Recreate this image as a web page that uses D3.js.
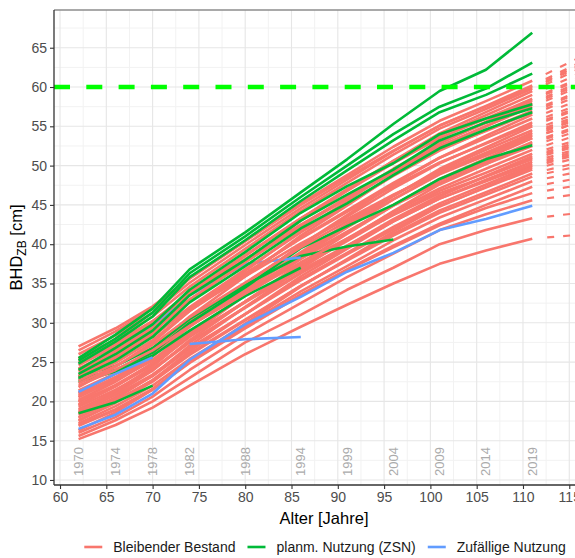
<!DOCTYPE html>
<html><head><meta charset="utf-8">
<script src="https://cdn.jsdelivr.net/npm/d3@7"></script>
<style>body{margin:0;background:#fff}svg{display:block;font-family:"Liberation Sans",Arial,sans-serif}</style>
</head><body><svg id="c" width="575" height="558"></svg>
<script>
// Measurement ages (Alter) and the corresponding survey years
const ages = [62,66,70,74,80,86,91,96,101,106,111];
const yearLabels = ["1970","1974","1978","1982","1988","1994","1999","2004","2009","2014","2019"];
const xTicks = [60,65,70,75,80,85,90,95,100,105,110,115];
const xMinor = [62.5,67.5,72.5,77.5,82.5,87.5,92.5,97.5,102.5,107.5,112.5,117.5];
const yTicks = [10,15,20,25,30,35,40,45,50,55,60,65];
const yMinor = [12.5,17.5,22.5,27.5,32.5,37.5,42.5,47.5,52.5,57.5,62.5,67.5];
const targetDiameter = 60;
const projAge = 120;

// Bleibender Bestand (remaining stand) - lower group
const redLower = [
 [15.2,17.0,19.2,22.0,26.0,29.5,32.3,35.0,37.5,39.2,40.7],
 [15.6,17.6,20.0,23.0,27.5,31.0,34.2,37.0,40.0,41.8,43.3],
 [16.0,18.0,20.6,24.0,28.5,32.5,35.8,38.8,41.8,43.8,45.6],
 [16.9,18.9,21.5,24.9,29.3,33.5,36.7,39.6,42.4,44.6,46.5],
 [17.2,19.4,22.0,25.4,29.7,34.0,37.2,40.5,43.4,45.7,48.0],
 [17.6,19.8,22.5,25.9,30.3,34.7,38.0,41.3,44.3,46.6,49.0],
 [18.0,20.1,22.7,26.1,30.4,34.7,37.9,41.1,44.0,46.3,48.6],
 [18.3,20.5,23.2,26.7,31.1,35.6,38.9,42.2,45.2,47.6,50.0],
 [18.6,20.8,23.4,26.8,31.1,35.4,38.7,41.9,44.9,47.2,49.5],
 [19.0,21.2,24.0,27.5,32.0,36.4,39.8,43.2,46.2,48.6,51.0],
 [19.3,21.5,24.1,27.6,31.9,36.3,39.6,42.9,45.8,48.2,50.5],
 [19.6,21.9,24.6,28.2,32.7,37.3,40.7,44.1,47.1,49.6,52.0],
 [19.9,22.1,24.8,28.3,32.7,37.1,40.4,43.8,46.8,49.1,51.5],
 [20.2,22.5,25.3,28.9,33.5,38.1,41.5,45.0,48.1,50.5,53.0],
 [20.5,22.9,25.8,29.5,34.3,39.0,42.6,46.2,49.4,52.0,54.5],
 [20.8,23.1,25.9,29.5,34.2,38.8,42.3,45.7,48.9,51.3,53.8],
 [21.1,23.5,26.4,30.2,35.0,39.8,43.5,47.1,50.3,52.9,55.5],
 [21.4,23.6,26.2,29.6,34.0,38.3,41.6,44.9,47.8,50.2,52.5],
 [17.0,19.0,21.6,25.0,29.5,33.6,36.8,39.8,42.6,45.0,47.3],
 [18.8,21.3,24.4,28.4,33.5,38.5,42.3,46.1,49.6,52.3,55.0],
 [20.0,22.6,25.7,29.7,34.8,39.9,43.7,47.6,51.0,53.8,56.5],
 [17.9,20.3,23.3,27.1,32.0,36.9,40.6,44.2,47.6,50.2,52.8],
 [16.3,18.6,21.5,25.2,29.9,34.6,38.1,41.6,44.8,47.3,49.8],
 [18.5,21.0,23.9,27.8,32.7,37.6,41.3,44.9,48.3,50.9,53.5],
 [19.5,21.9,24.9,28.7,33.6,38.4,42.1,45.7,49.0,51.6,54.2],
 [21.0,23.6,26.7,30.8,35.9,41.1,44.9,48.8,52.3,55.0,57.8],
 [17.5,19.9,22.7,26.4,31.1,35.9,39.4,42.9,46.1,48.7,51.2],
 [20.6,22.7,25.2,28.4,32.6,36.7,39.8,42.9,45.8,48.0,50.2]
];
const redLowerProj = [41.6,44.5,47.0,48.3,50.2,51.5,51.0,53.0,52.3,54.2,53.5,55.5,54.8,56.7,58.5,57.6,59.6,56.0,49.3,59.0,60.8,56.5,52.8,57.2,58.1,62.3,54.5,53.3];

// Bleibender Bestand - upper group
const redUpper = [
 [22.3,24.5,27.2,30.7,35.1,39.6,42.9,46.2,49.2,51.6,54.0],
 [22.6,24.9,27.8,31.5,36.1,40.8,44.3,47.8,51.0,53.5,56.0],
 [23.0,25.4,28.3,32.0,36.8,41.5,45.1,48.7,51.9,54.5,57.0],
 [23.4,25.6,28.3,31.8,36.3,40.7,44.1,47.4,50.4,52.8,55.2],
 [23.8,26.2,29.1,32.9,37.7,42.4,46.0,49.6,52.9,55.4,58.0],
 [24.2,26.5,29.4,33.0,37.7,42.3,45.8,49.3,52.5,55.0,57.5],
 [24.6,27.0,29.9,33.7,38.5,43.3,47.0,50.6,53.8,56.4,59.0],
 [25.0,27.3,30.2,33.9,38.6,43.3,46.8,50.3,53.5,56.0,58.5],
 [25.5,27.9,30.8,34.6,39.4,44.2,47.8,51.4,54.7,57.2,59.8],
 [26.0,28.4,31.3,35.1,39.9,44.6,48.2,51.8,55.1,57.6,60.2],
 [26.5,28.9,31.8,35.6,40.4,45.2,48.8,52.4,55.7,58.2,60.8],
 [27.0,29.3,32.1,35.7,40.4,45.0,48.5,51.9,55.1,57.5,60.0],
 [22.0,24.0,26.5,29.6,33.7,37.7,40.7,43.7,46.5,48.6,50.8],
 [24.0,26.1,28.6,31.8,35.9,40.1,43.2,46.3,49.1,51.3,53.5],
 [25.3,27.5,30.2,33.6,38.1,42.5,45.8,49.1,52.1,54.4,56.8],
 [21.8,24.4,27.5,31.5,36.6,41.7,45.5,49.4,52.8,55.6,58.3],
 [23.2,25.7,28.8,32.8,37.9,43.0,46.8,50.6,54.1,56.8,59.5]
];
const redUpperProj = [57.8,60.2,61.4,59.2,62.6,62.0,63.8,63.2,64.8,65.3,66.0,65.0,54.0,57.2,61.2,63.0,64.5];

// planm. Nutzung (ZSN) - trees removed at different ages (values from age 62 on)
const greenMid = [
 [22.8,24.0,26.2,30.0,34.5,39.5,42.3,45.0,48.3,50.8,52.6],
 [23.2,24.5,26.8,30.5,34.8,38.5,39.7,40.6],
 [18.5,19.9,22.0],
 [22.5,23.8,25.8,29.0,33.4,37.0]
];
const greenTop = [
 [25.5,28.5,31.8,36.8,41.5,46.6,50.8,55.3,59.5,62.2,66.9],
 [25.2,28.0,31.3,36.3,41.0,46.0,50.0,54.0,57.5,59.8,63.1],
 [24.8,27.6,30.8,35.8,40.5,45.5,49.4,53.2,56.8,59.0,61.7],
 [24.0,26.8,29.8,34.2,39.0,44.0,47.4,50.3,54.0,56.0,57.8],
 [23.5,26.0,29.0,33.5,38.0,43.0,46.3,49.5,53.2,55.5,57.3],
 [23.0,25.2,28.2,32.6,37.2,42.0,45.2,48.8,52.2,54.6,56.8]
];

// Zufällige Nutzung (null = not measured)
const blueTrees = [
 [16.5,18.3,21.0,25.3,29.8,33.3,36.5,38.9,41.8,43.2,44.9],
 [null,null,null,27.3,27.9,28.2],
 [21.2,23.5,25.6],
 [24.8,27.0,29.5,33.5,37.5,38.3]
];

const colors = {red:"#F8766D", green:"#00BA38", blue:"#619CFF"};
const legendLabels = ["Bleibender Bestand","planm. Nutzung (ZSN)","Zufällige Nutzung"];

const svg = d3.select("#c");
const L = 54, R = 594, T = 10, B = 485;
const x = d3.scaleLinear().domain([59.35,117.67]).range([L,R]);
const y = d3.scaleLinear().domain([9.36,69.8]).range([B,T]);

svg.append("defs").append("clipPath").attr("id","clip")
  .append("rect").attr("x",L).attr("y",T).attr("width",R-L).attr("height",B-T);

const grid = svg.append("g");
grid.selectAll(".xm").data(xMinor).join("line").attr("x1",d=>x(d)).attr("x2",d=>x(d)).attr("y1",T).attr("y2",B).attr("stroke","#f2f2f2").attr("stroke-width",1);
grid.selectAll(".ym").data(yMinor).join("line").attr("y1",d=>y(d)).attr("y2",d=>y(d)).attr("x1",L).attr("x2",R).attr("stroke","#f2f2f2").attr("stroke-width",1);
grid.selectAll(".xM").data(xTicks).join("line").attr("x1",d=>x(d)).attr("x2",d=>x(d)).attr("y1",T).attr("y2",B).attr("stroke","#e6e6e6").attr("stroke-width",1.1);
grid.selectAll(".yM").data(yTicks).join("line").attr("y1",d=>y(d)).attr("y2",d=>y(d)).attr("x1",L).attr("x2",R).attr("stroke","#e6e6e6").attr("stroke-width",1.1);

// year labels
svg.append("g").selectAll("text").data(yearLabels).join("text")
  .attr("transform",(d,i)=>`translate(${x(ages[i])+4.5},${y(12.35)}) rotate(-90)`)
  .attr("text-anchor","middle").attr("font-size",13).attr("fill","#ababab").text(d=>d);

const plot = svg.append("g").attr("clip-path","url(#clip)");
const line = d3.line().defined(d=>d[1]!=null).x(d=>x(d[0])).y(d=>y(d[1]));
const toPts = vals => ages.slice(0, vals.length).map((a,i)=>[a, vals[i]]);

function drawSet(arr, color, proj){
  const g = plot.append("g");
  g.selectAll("path.l").data(arr).join("path").attr("class","l")
    .attr("d",d=>line(toPts(d))).attr("fill","none").attr("stroke",color)
    .attr("stroke-width",2.6).attr("stroke-linejoin","round");
  if(proj){
    g.selectAll("path.p").data(arr).join("path").attr("class","p")
      .attr("d",(d,i)=>line([[ages[ages.length-1], d[d.length-1]],[projAge, proj[i]]]))
      .attr("fill","none").attr("stroke",color).attr("stroke-width",2.2)
      .attr("stroke-dasharray","0 15 7 9 7 9 7 9 7 9 7 9 7 9");
  }
}
drawSet(redLower, colors.red, redLowerProj);
drawSet(greenMid, colors.green);
drawSet([blueTrees[2], blueTrees[3]], colors.blue);
drawSet(redUpper, colors.red, redUpperProj);
drawSet([blueTrees[1]], colors.blue);
drawSet(greenTop, colors.green);
drawSet([blueTrees[0]], colors.blue);

// target line
plot.append("line").attr("x1",L).attr("x2",R).attr("y1",y(targetDiameter)).attr("y2",y(targetDiameter))
  .attr("stroke","#00FF00").attr("stroke-width",4.5).attr("stroke-dasharray","16 16.3");

// panel border & axes
svg.append("line").attr("x1",L).attr("x2",R).attr("y1",T).attr("y2",T).attr("stroke","#8c8c8c").attr("stroke-width",1.5);
svg.append("line").attr("x1",L).attr("x2",L).attr("y1",T).attr("y2",B).attr("stroke","#333").attr("stroke-width",1.3);
svg.append("line").attr("x1",L).attr("x2",R).attr("y1",B).attr("y2",B).attr("stroke","#333").attr("stroke-width",1.3);

const xAxis = d3.axisBottom(x).tickValues(xTicks).tickSize(4).tickPadding(3).tickFormat(d3.format("d"));
const gx = svg.append("g").attr("transform",`translate(0,${B})`).call(xAxis);
gx.select(".domain").remove();
gx.selectAll(".tick line").attr("stroke","#333").attr("stroke-width",1.1);
gx.selectAll(".tick text").attr("font-size",14).attr("fill","#4d4d4d").attr("font-family","Liberation Sans, Arial, sans-serif");

const yAxis = d3.axisLeft(y).tickValues(yTicks).tickSize(4).tickPadding(3).tickFormat(d3.format("d"));
const gy = svg.append("g").attr("transform",`translate(${L},0)`).call(yAxis);
gy.select(".domain").remove();
gy.selectAll(".tick line").attr("stroke","#333").attr("stroke-width",1.1);
gy.selectAll(".tick text").attr("font-size",14).attr("fill","#4d4d4d").attr("font-family","Liberation Sans, Arial, sans-serif");

// axis titles
svg.append("text").attr("x",(L+R)/2).attr("y",524).attr("text-anchor","middle")
  .attr("font-size",16.5).attr("fill","#000").text("Alter [Jahre]");
const yt = svg.append("text").attr("transform",`translate(22,${(T+B)/2}) rotate(-90)`)
  .attr("text-anchor","middle").attr("font-size",16.5).attr("fill","#000");
yt.append("tspan").text("BHD");
yt.append("tspan").attr("font-size",12).attr("dy",4).text("ZB");
yt.append("tspan").attr("dy",-4).text(" [cm]");

// legend
const lg = svg.append("g");
const lcol = [colors.red, colors.green, colors.blue];
let cx = 0;
legendLabels.forEach((t,i)=>{
  const g = lg.append("g");
  g.append("line").attr("x1",0).attr("x2",18).attr("y1",0).attr("y2",0).attr("stroke",lcol[i]).attr("stroke-width",2.6);
  const tx = g.append("text").attr("x",29).attr("y",5).attr("font-size",14).attr("fill","#1a1a1a").text(t);
  const w = 29 + tx.node().getComputedTextLength();
  g.attr("transform",`translate(${cx},0)`);
  cx += w + 12;
});
const total = cx - 12;
lg.attr("transform",`translate(${325 - total/2},547)`);
</script></body></html>
